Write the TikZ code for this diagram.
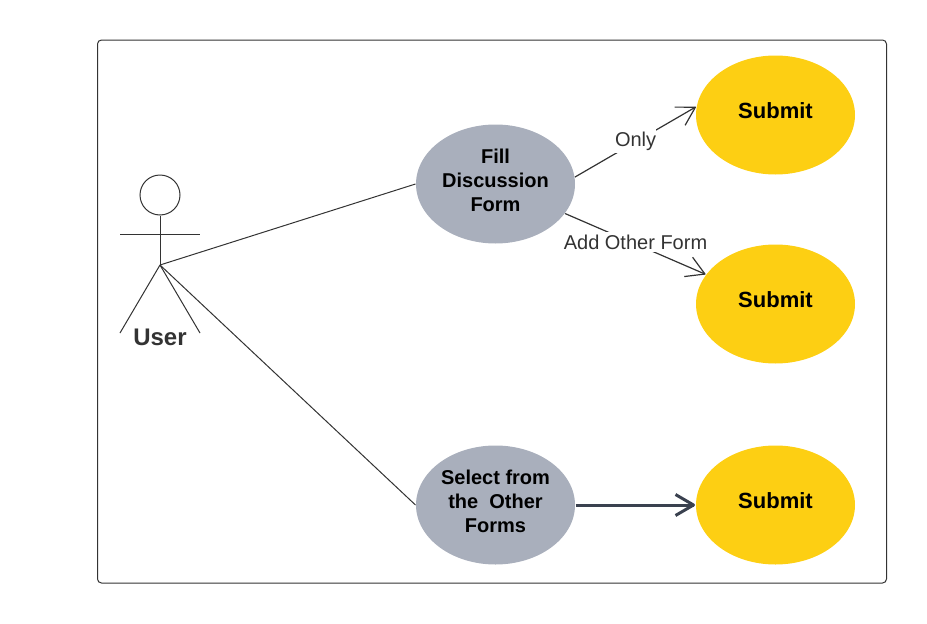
\documentclass[tikz,border=0pt]{standalone}
\usepackage{fontspec}
\setmainfont{Liberation Sans}
\usetikzlibrary{shapes.geometric}
\definecolor{casegray}{HTML}{A9AFBC}
\definecolor{submityellow}{HTML}{FDCF13}
\definecolor{linedark}{HTML}{333333}
\definecolor{arrowslate}{HTML}{3A414F}
% raises the text in its ellipse, the box stays the same
\newcommand{\lifted}[2][1pt]{\raisebox{#1}[\height][\depth]{\begin{tabular}{@{}c@{}}#2\end{tabular}}}
% open arrow head with straight wings
\pgfarrowsdeclare{openvee}{openvee}{\pgfarrowsleftextend{-18pt}\pgfarrowsrightextend{0pt}}{
  \pgfsetroundjoin
  \pgfpathmoveto{\pgfpoint{-18pt}{10.5pt}}
  \pgfpathlineto{\pgfpointorigin}
  \pgfpathlineto{\pgfpoint{-18pt}{-10.5pt}}
  \pgfusepathqstroke}
\begin{document}
\begin{tikzpicture}[x=1pt,y=-1pt,line width=1pt,
  case node/.style={ellipse,fill=casegray,minimum width=159pt,minimum height=119pt,inner sep=0pt,font=\fontsize{20}{24}\selectfont\bfseries},
  submit node/.style={case node,fill=submityellow,font=\fontsize{22}{26}\selectfont\bfseries},
  flow label/.style={fill=white,inner xsep=0pt,inner ysep=3pt,text=linedark,font=\fontsize{20}{24}\selectfont},
  barb/.style={-openvee,shorten >=1pt,draw=linedark,line width=1.2pt}]
\useasboundingbox (0,0) rectangle (927,624);
\draw [linedark,rounded corners=4pt] (97.5,40) rectangle (886.5,583);

% actor
\node [circle,draw=linedark,minimum size=40pt,inner sep=0pt] (head) at (160,195) {};
\coordinate (hip) at (160,265);
\coordinate (handl) at (120,234);
\coordinate (handr) at (200,234);
\coordinate (footl) at (120,333);
\coordinate (footr) at (200,333);
\draw [linedark] (head) -- (hip);
\draw [linedark] (handl) -- (handr);
\draw [linedark] (hip) -- (footl);
\draw [linedark] (hip) -- (footr);
\node [text=linedark,font=\fontsize{24}{28}\selectfont\bfseries] (user) at (160,337) {User};

% use cases
\node [case node] (fill) at (495.5,184) {\lifted{Fill\\Discussion\\Form}};
\node [case node] (select) at (495.5,505) {\lifted{Select from\\the\ \ Other\\Forms}};
\node [submit node] (submita) at (775.5,115) {\lifted[2pt]{Submit}};
\node [submit node] (submitb) at (775.5,304) {\lifted[2pt]{Submit}};
\node [submit node] (submitc) at (775.5,505) {\lifted[2pt]{Submit}};

\draw [linedark] (hip) -- (fill.west);
\draw [linedark] (hip) -- (select.west);
\draw [barb] (fill.5) -- node [flow label,yshift=1pt] (only) {Only} (submita.174);
\draw [barb] (fill.-23) -- node [flow label,yshift=2pt] (other) {Add Other Form} (submitb.157);
\draw [-openvee,shorten >=2pt,draw=arrowslate,line width=3pt] (select.east) -- (submitc.west);
\end{tikzpicture}
\end{document}
